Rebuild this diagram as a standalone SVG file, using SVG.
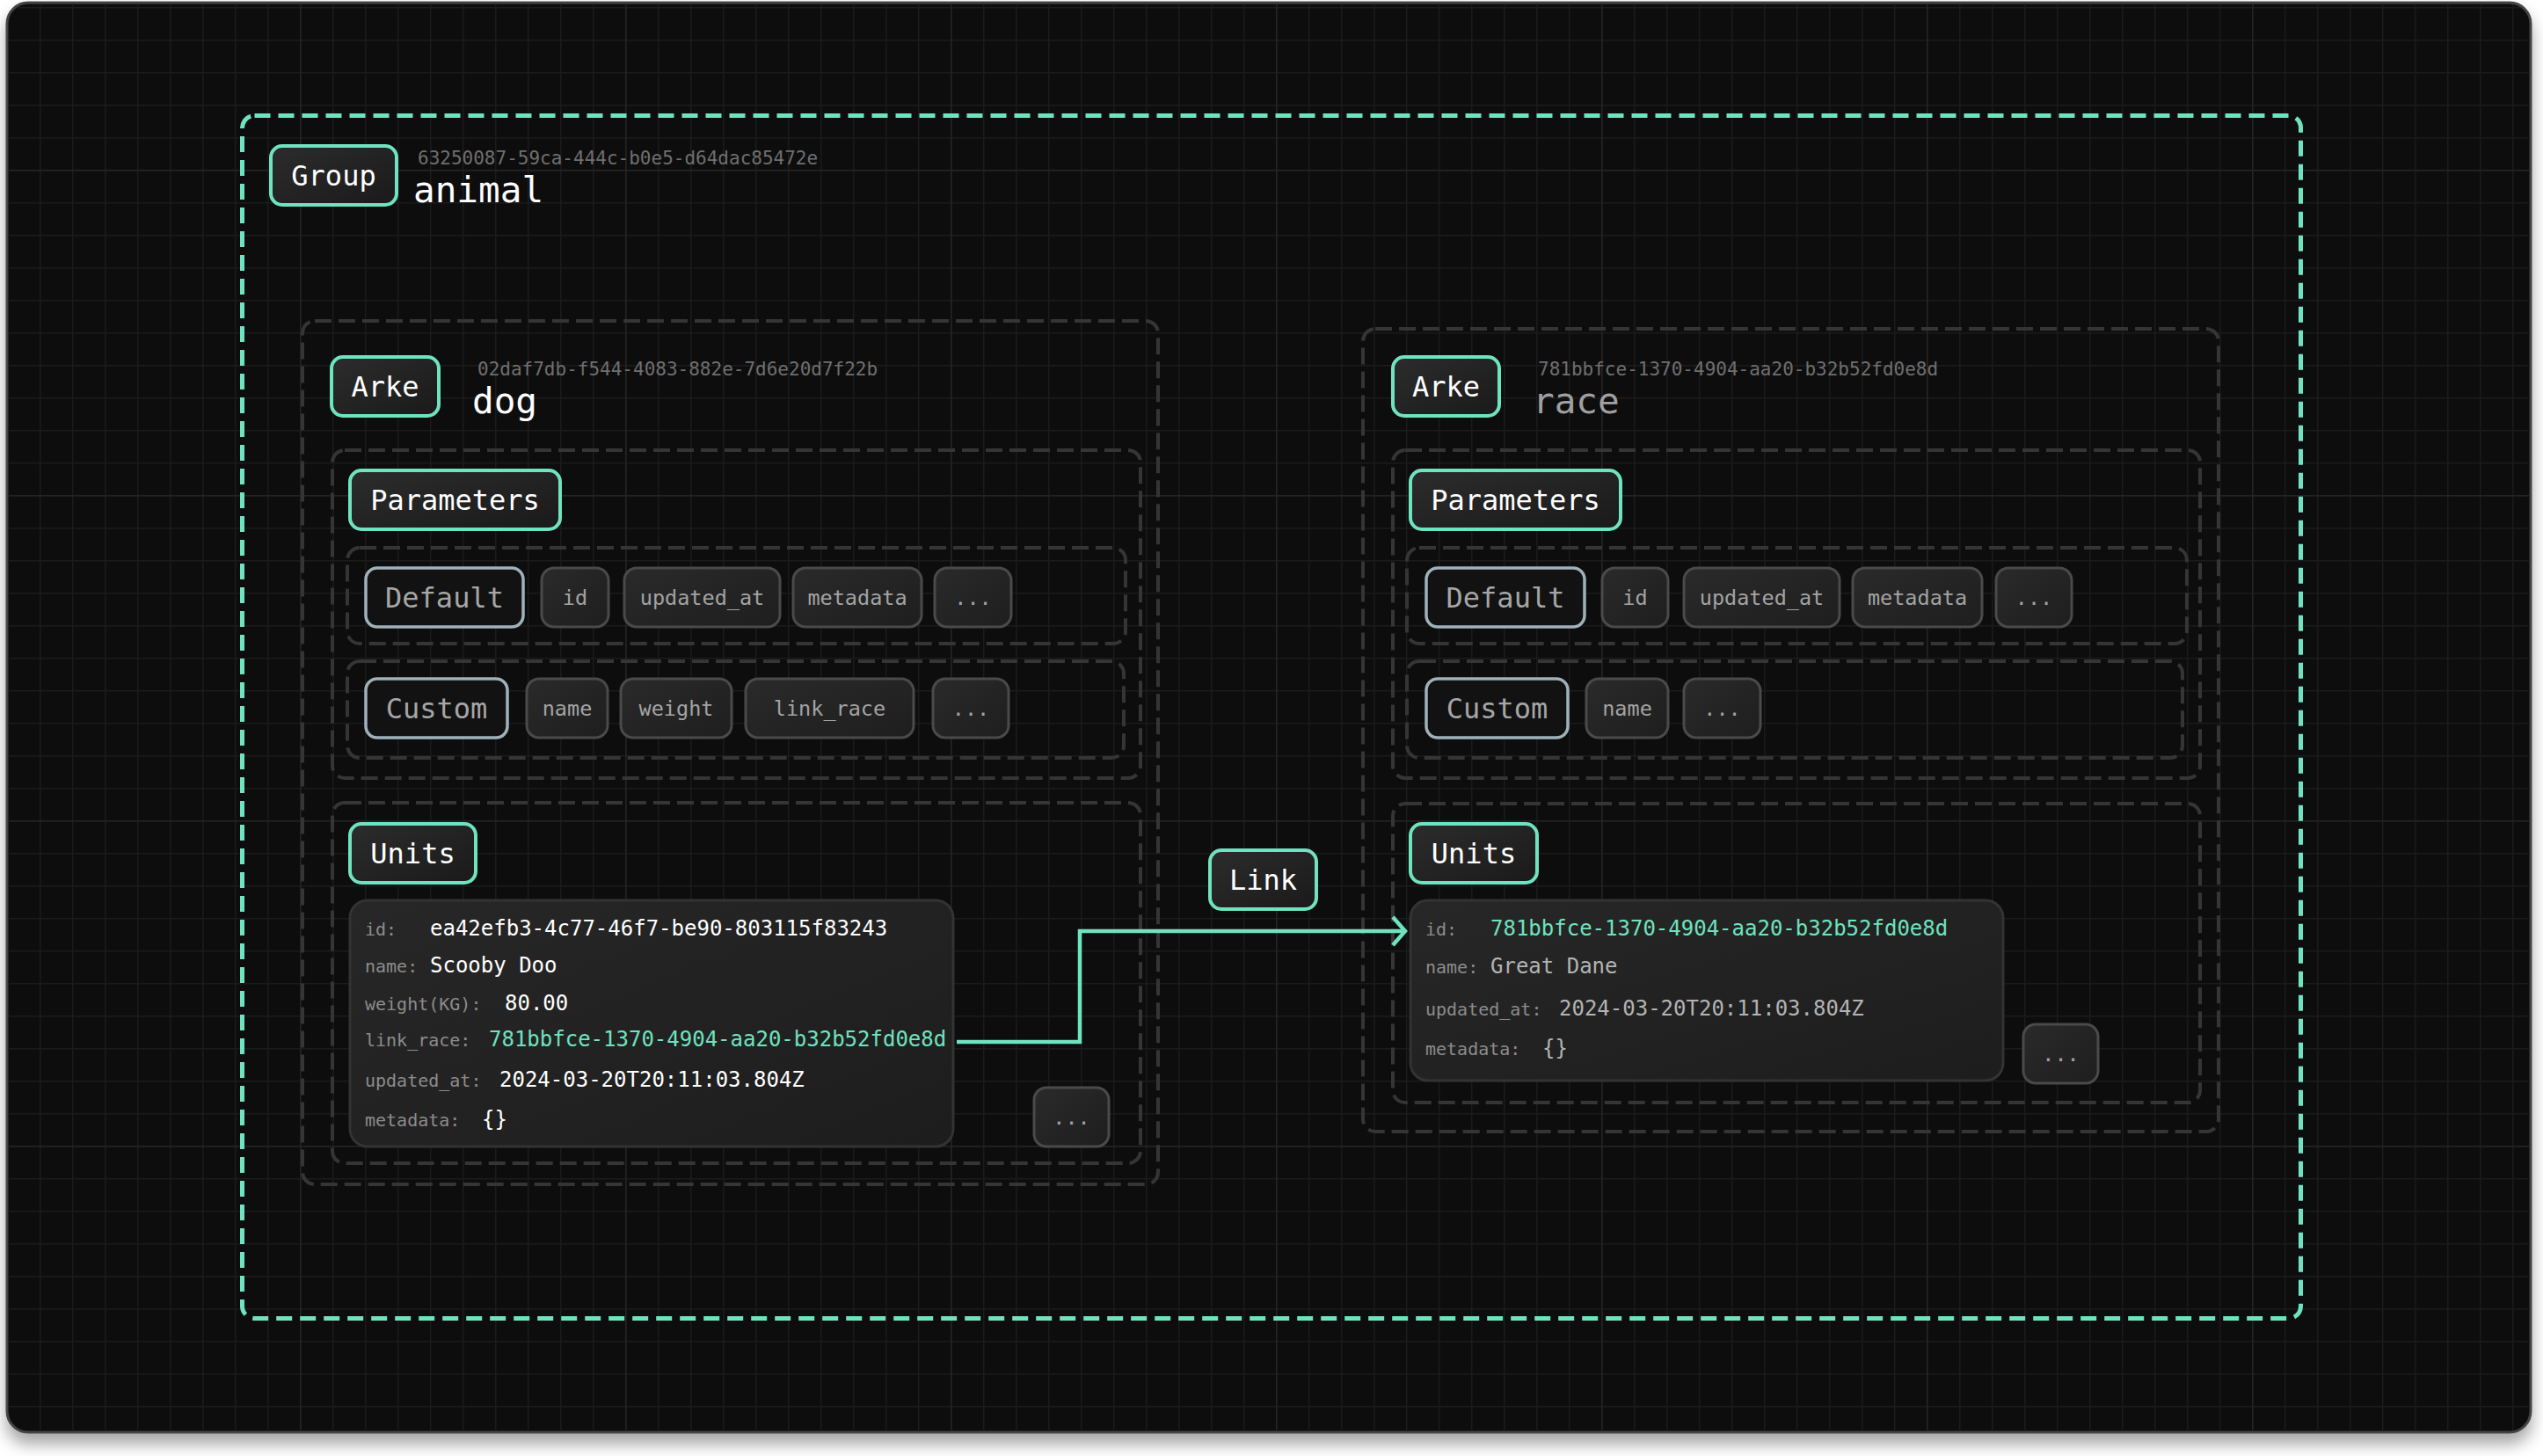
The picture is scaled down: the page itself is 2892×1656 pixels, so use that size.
<svg xmlns="http://www.w3.org/2000/svg" width="2892" height="1656" viewBox="0 0 2892 1656">
<style>
.mono{font-family:"DejaVu Sans Mono","Liberation Mono",monospace}
.lbl{fill:url(#lblg);stroke:#6fe3bf;stroke-width:4}
.lbltx{font-size:32px;fill:#ffffff;text-anchor:middle;dominant-baseline:central}
.sec{fill:#121212;stroke:#9fb1ba;stroke-width:3.5}
.sectx{font-size:32px;fill:#a6a6a6;text-anchor:middle;dominant-baseline:central}
.chip{fill:url(#chipg);stroke:#4a4a4a;stroke-width:3}
.chiptx{font-size:23.5px;fill:#a3a3a3;text-anchor:middle;dominant-baseline:central}
.dgray{fill:none;stroke:#353535;stroke-width:4;stroke-dasharray:19 8}
.dmint{fill:none;stroke:#6fe3bf;stroke-width:5;stroke-dasharray:18 9}
.uuid{font-size:21px;fill:#6f6f6f}
.name{font-size:41px;fill:#ffffff}
.card{fill:url(#cardg);stroke:#333333;stroke-width:3}
.k{font-size:20px;fill:#8c8c8c}
.v{font-size:24px;fill:#ffffff}
.vg{font-size:24px;fill:#b3b3b3}
.vm{font-size:24px;fill:#6fe3bf}
</style>
<defs>
<linearGradient id="lblg" x1="0" y1="0" x2="1" y2="1"><stop offset="0" stop-color="#2c2c2c"/><stop offset="1" stop-color="#1a1a1a"/></linearGradient>
<linearGradient id="chipg" x1="0" y1="0" x2="1" y2="1"><stop offset="0" stop-color="#2a2a2a"/><stop offset="1" stop-color="#1e1e1e"/></linearGradient>
<linearGradient id="cardg" x1="0" y1="0" x2="1" y2="1"><stop offset="0" stop-color="#272727"/><stop offset="1" stop-color="#1d1d1d"/></linearGradient>
<pattern id="minor" x="8" y="8" width="37" height="37" patternUnits="userSpaceOnUse"><path d="M0 0H37M0 0V37" stroke="#1b1b1b" stroke-width="3" fill="none"/></pattern>
<pattern id="major" x="-29" y="193" width="370" height="370" patternUnits="userSpaceOnUse"><path d="M0 0H370M0 0V370" stroke="#242424" stroke-width="3" fill="none"/></pattern>
<filter id="sh" x="-5%" y="-5%" width="110%" height="115%"><feDropShadow dx="0" dy="12" stdDeviation="9" flood-color="#000" flood-opacity="0.35"/></filter>
<marker id="arr" viewBox="-20 -20 24 40" refX="0" refY="0" markerWidth="24" markerHeight="40" markerUnits="userSpaceOnUse" orient="auto"><path d="M-14,-16 L0,0 L-14,16" fill="none" stroke="#6fe3bf" stroke-width="4.5" stroke-linejoin="miter"/></marker>
</defs>
<rect width="2892" height="1656" fill="#ffffff"/>
<g id="panel">
<rect x="8" y="3" width="2870" height="1626" rx="24" fill="#111111" stroke="#444444" stroke-width="3" filter="url(#sh)"/>
<rect x="9.5" y="4.5" width="2867" height="1623" rx="23" fill="url(#minor)"/>
<rect x="9.5" y="4.5" width="2867" height="1623" rx="23" fill="url(#major)"/>
</g>
<g id="group-animal">
<rect class="dmint" x="275.5" y="131.5" width="2341" height="1368" rx="14"/>
<rect class="lbl" x="308" y="166" width="143" height="67" rx="13"/>
<text class="mono lbltx" x="379.5" y="199.5">Group</text>
<text class="mono uuid" x="475" y="187">63250087-59ca-444c-b0e5-d64dac85472e</text>
<text class="mono name" x="470" y="230">animal</text>
</g>
<g id="arke-dog">
<rect class="dgray" x="344" y="365" width="973" height="982" rx="14"/>
<rect class="lbl" x="377" y="406" width="122" height="67" rx="13"/>
<text class="mono lbltx" x="438" y="439.5">Arke</text>
<text class="mono uuid" x="543" y="427">02daf7db-f544-4083-882e-7d6e20d7f22b</text>
<text class="mono name" x="537" y="470">dog</text>
</g>
<g id="dog-parameters">
<rect class="dgray" x="378" y="512" width="919" height="373" rx="14"/>
<rect class="lbl" x="398" y="535" width="239" height="67" rx="13"/>
<text class="mono lbltx" x="517.5" y="568.5">Parameters</text>
</g>
<g id="dog-default">
<rect class="dgray" x="395" y="623" width="885" height="109" rx="14"/>
<rect class="sec" x="416" y="646" width="179" height="67" rx="13"/>
<text class="mono sectx" x="505.5" y="679.5">Default</text>
<rect class="chip" x="616" y="646" width="76" height="67" rx="14"/><text class="mono chiptx" x="654" y="679.5">id</text>
<rect class="chip" x="710" y="646" width="177" height="67" rx="14"/><text class="mono chiptx" x="798.5" y="679.5">updated_at</text>
<rect class="chip" x="902" y="646" width="146" height="67" rx="14"/><text class="mono chiptx" x="975" y="679.5">metadata</text>
<rect class="chip" x="1063" y="646" width="87" height="67" rx="14"/><text class="mono chiptx" x="1106.5" y="679.5">...</text>
</g>
<g id="dog-custom">
<rect class="dgray" x="395" y="752" width="883" height="110" rx="14"/>
<rect class="sec" x="416" y="772" width="161" height="67" rx="13"/>
<text class="mono sectx" x="496.5" y="805.5">Custom</text>
<rect class="chip" x="599" y="772" width="92" height="67" rx="14"/><text class="mono chiptx" x="645" y="805.5">name</text>
<rect class="chip" x="706" y="772" width="126" height="67" rx="14"/><text class="mono chiptx" x="769" y="805.5">weight</text>
<rect class="chip" x="848" y="772" width="191" height="67" rx="14"/><text class="mono chiptx" x="943.5" y="805.5">link_race</text>
<rect class="chip" x="1061" y="772" width="86" height="67" rx="14"/><text class="mono chiptx" x="1104" y="805.5">...</text>
</g>
<g id="dog-units">
<rect class="dgray" x="378" y="913" width="919" height="410" rx="14"/>
<rect class="lbl" x="398" y="937" width="143" height="67" rx="13"/>
<text class="mono lbltx" x="469.5" y="970.5">Units</text>
</g>
<g id="unit-scooby">
<rect class="card" x="398" y="1024" width="686" height="280" rx="20"/>
<text class="mono k" x="415" y="1064">id:</text><text class="mono v" x="489" y="1064">ea42efb3-4c77-46f7-be90-803115f83243</text>
<text class="mono k" x="415" y="1106">name:</text><text class="mono v" x="489" y="1106">Scooby Doo</text>
<text class="mono k" x="415" y="1149">weight(KG):</text><text class="mono v" x="574" y="1149">80.00</text>
<text class="mono k" x="415" y="1190">link_race:</text><text class="mono vm" x="556" y="1190">781bbfce-1370-4904-aa20-b32b52fd0e8d</text>
<text class="mono k" x="415" y="1236">updated_at:</text><text class="mono v" x="568" y="1236">2024-03-20T20:11:03.804Z</text>
<text class="mono k" x="415" y="1281">metadata:</text><text class="mono v" x="548" y="1281">{}</text>
</g>
<g id="dog-units-more">
<rect class="chip" x="1176" y="1237" width="85" height="67" rx="14"/><text class="mono chiptx" x="1218.5" y="1270.5">...</text>
</g>
<g id="arke-race">
<rect class="dgray" x="1550" y="374" width="973" height="913" rx="14"/>
<rect class="lbl" x="1584" y="406" width="121" height="67" rx="13"/>
<text class="mono lbltx" x="1644.5" y="439.5">Arke</text>
<text class="mono uuid" x="1749" y="427">781bbfce-1370-4904-aa20-b32b52fd0e8d</text>
<text class="mono name" x="1743" y="470" fill="#a0a0a0" style="fill:#a0a0a0">race</text>
</g>
<g id="race-parameters">
<rect class="dgray" x="1584" y="512" width="918" height="373" rx="14"/>
<rect class="lbl" x="1604" y="535" width="239" height="67" rx="13"/>
<text class="mono lbltx" x="1723.5" y="568.5">Parameters</text>
</g>
<g id="race-default">
<rect class="dgray" x="1600" y="623" width="887" height="109" rx="14"/>
<rect class="sec" x="1622" y="646" width="180" height="67" rx="13"/>
<text class="mono sectx" x="1712" y="679.5">Default</text>
<rect class="chip" x="1822" y="646" width="75" height="67" rx="14"/><text class="mono chiptx" x="1859.5" y="679.5">id</text>
<rect class="chip" x="1915" y="646" width="177" height="67" rx="14"/><text class="mono chiptx" x="2003.5" y="679.5">updated_at</text>
<rect class="chip" x="2107" y="646" width="147" height="67" rx="14"/><text class="mono chiptx" x="2180.5" y="679.5">metadata</text>
<rect class="chip" x="2270" y="646" width="86" height="67" rx="14"/><text class="mono chiptx" x="2313" y="679.5">...</text>
</g>
<g id="race-custom">
<rect class="dgray" x="1600" y="752" width="882" height="110" rx="14"/>
<rect class="sec" x="1622" y="772" width="161" height="67" rx="13"/>
<text class="mono sectx" x="1702.5" y="805.5">Custom</text>
<rect class="chip" x="1804" y="772" width="93" height="67" rx="14"/><text class="mono chiptx" x="1850.5" y="805.5">name</text>
<rect class="chip" x="1915" y="772" width="87" height="67" rx="14"/><text class="mono chiptx" x="1958.5" y="805.5">...</text>
</g>
<g id="race-units">
<rect class="dgray" x="1584" y="914" width="918" height="340" rx="14"/>
<rect class="lbl" x="1604" y="937" width="144" height="67" rx="13"/>
<text class="mono lbltx" x="1676" y="970.5">Units</text>
</g>
<g id="unit-great-dane">
<rect class="card" x="1604" y="1024" width="674" height="205" rx="20"/>
<text class="mono k" x="1621" y="1064">id:</text><text class="mono vm" x="1695" y="1064">781bbfce-1370-4904-aa20-b32b52fd0e8d</text>
<text class="mono k" x="1621" y="1107">name:</text><text class="mono vg" x="1695" y="1107">Great Dane</text>
<text class="mono k" x="1621" y="1155">updated_at:</text><text class="mono vg" x="1773" y="1155">2024-03-20T20:11:03.804Z</text>
<text class="mono k" x="1621" y="1200">metadata:</text><text class="mono vg" x="1754" y="1200">{}</text>
</g>
<g id="race-units-more">
<rect class="chip" x="2301" y="1165" width="85" height="67" rx="14"/><text class="mono chiptx" x="2343.5" y="1198.5">...</text>
</g>
<g id="connectors">
<path d="M1088,1185 H1228 V1059 H1598" fill="none" stroke="#6fe3bf" stroke-width="4.5" marker-end="url(#arr)"/>
<g id="link-label">
<rect class="lbl" x="1376" y="967" width="121" height="67" rx="13"/>
<text class="mono lbltx" x="1436.5" y="1000.5">Link</text>
</g>
</g>
</svg>
